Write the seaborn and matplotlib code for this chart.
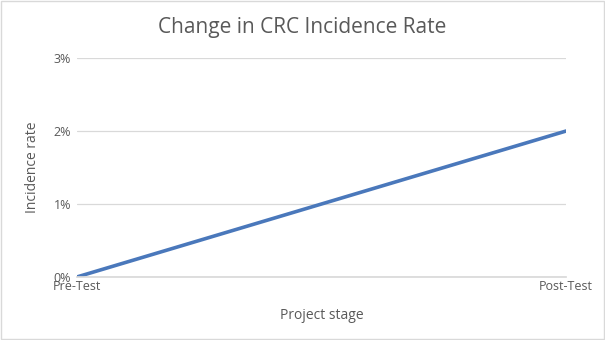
import matplotlib
matplotlib.use("Agg")
import matplotlib.pyplot as plt
import seaborn as sns
import pandas as pd
from matplotlib.ticker import FuncFormatter

stages = ["Pre-Test", "Post-Test"]
rates = [0.0, 2.0]

df = pd.DataFrame({"stage": stages, "rate": rates})

sns.set_theme(style="white")
plt.rcParams['font.family'] = ['Open Sans', 'DejaVu Sans']

fig = plt.figure(figsize=(6.05, 3.4), dpi=100)
ax = fig.add_axes([0.127, 0.1853, 0.8088, 0.6441])

sns.lineplot(data=df, x="stage", y="rate", ax=ax, color="#4a78bb", linewidth=2.6, sort=False)

ax.set_xlim(0, 1)
ax.set_ylim(0, 3)
ax.set_yticks([0, 1, 2, 3])
ax.yaxis.set_major_formatter(FuncFormatter(lambda v, p: f"{int(v)}%"))
ax.grid(axis="y", color="#d9d9d9", linewidth=0.9)
ax.set_axisbelow(True)
for s in ["top", "right", "left"]:
    ax.spines[s].set_visible(False)
ax.spines["bottom"].set_color("#d9d9d9")
ax.tick_params(axis="both", length=0, labelsize=9, labelcolor="#595959", pad=2)
ax.tick_params(axis="y", pad=4)

ax.set_xlabel("Project stage", fontsize=10, color="#595959", labelpad=11)
ax.set_ylabel("Incidence rate", fontsize=10, color="#595959", labelpad=10)
fig.suptitle("Change in CRC Incidence Rate", fontsize=15, color="#595959", y=0.95)

fig.patches.append(plt.Rectangle((0.001, 0.002), 0.997, 0.995, transform=fig.transFigure,
                                 fill=False, edgecolor="#d9d9d9", linewidth=1))

fig.savefig("out.png", dpi=100)
